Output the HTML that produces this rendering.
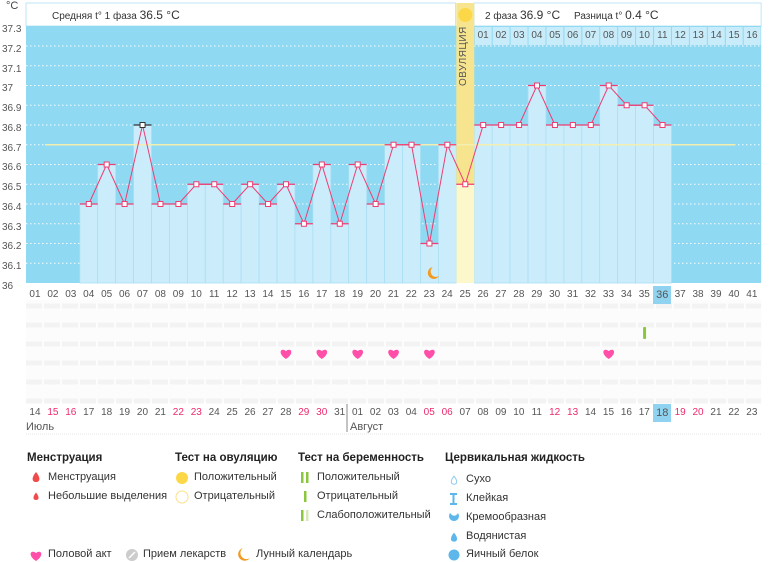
<!DOCTYPE html>
<html><head><meta charset="utf-8"><style>
body{margin:0;width:770px;height:562px;background:#fff;font-family:"Liberation Sans","DejaVu Sans",sans-serif;position:relative;overflow:hidden;color:#444}
.row{position:absolute;left:26px;display:flex;font-size:10px;color:#555}
.row span{width:17.93px;text-align:center;flex:none;line-height:18px}
.r{color:#ee2a6a}
.ab{position:absolute;white-space:nowrap}
.lg{position:absolute;font-size:11px;color:#333;white-space:nowrap}
.lg b{font-size:11.5px;color:#222}
</style></head><body>
<svg id="s" width="770" height="562" style="position:absolute;left:0;top:0"></svg>
<div class="ab" style="left:6px;top:0;font-size:11px">°C</div>
<div class="ab" style="left:52px;top:8px;font-size:10px;color:#333">Средняя t° 1 фаза <span style="font-size:12px">36.5 °C</span></div>
<div class="ab" style="left:485px;top:8px;font-size:10px;color:#333">2 фаза <span style="font-size:12px">36.9 °C</span> &nbsp; &nbsp; Разница t° <span style="font-size:12px">0.4 °C</span></div>
<div class="ab" style="left:2px;top:20px;font-size:10px;line-height:19.75px;color:#555">37.3<br>37.2<br>37.1<br>37<br>36.9<br>36.8<br>36.7<br>36.6<br>36.5<br>36.4<br>36.3<br>36.2<br>36.1<br>36</div>
<div class="row" style="top:27px;left:474.2px"><span>01</span><span>02</span><span>03</span><span>04</span><span>05</span><span>06</span><span>07</span><span>08</span><span>09</span><span>10</span><span>11</span><span>12</span><span>13</span><span>14</span><span>15</span><span>16</span></div>
<div class="ab" style="left:458px;top:86px;transform:rotate(-90deg);transform-origin:0 0;font-size:10px;color:#555;letter-spacing:0.5px">ОВУЛЯЦИЯ</div>
<div class="row" style="top:286px"><span>01</span><span>02</span><span>03</span><span>04</span><span>05</span><span>06</span><span>07</span><span>08</span><span>09</span><span>10</span><span>11</span><span>12</span><span>13</span><span>14</span><span>15</span><span>16</span><span>17</span><span>18</span><span>19</span><span>20</span><span>21</span><span>22</span><span>23</span><span>24</span><span>25</span><span>26</span><span>27</span><span>28</span><span>29</span><span>30</span><span>31</span><span>32</span><span>33</span><span>34</span><span>35</span><span style="background:#8fd3f0;font-size:11px">36</span><span>37</span><span>38</span><span>39</span><span>40</span><span>41</span></div>
<div class="row" style="top:404px"><span>14</span><span class="r">15</span><span class="r">16</span><span>17</span><span>18</span><span>19</span><span>20</span><span>21</span><span class="r">22</span><span class="r">23</span><span>24</span><span>25</span><span>26</span><span>27</span><span>28</span><span class="r">29</span><span class="r">30</span><span>31</span><span>01</span><span>02</span><span>03</span><span>04</span><span class="r">05</span><span class="r">06</span><span>07</span><span>08</span><span>09</span><span>10</span><span>11</span><span class="r">12</span><span class="r">13</span><span>14</span><span>15</span><span>16</span><span>17</span><span style="background:#8fd3f0;font-size:11px">18</span><span class="r">19</span><span class="r">20</span><span>21</span><span>22</span><span>23</span></div>
<div class="ab" style="left:26px;top:421px;font-size:11px;color:#555">Июль</div>
<div class="ab" style="left:350px;top:421px;font-size:11px;color:#555">Август</div>

<div class="lg" style="left:27px;top:452px"><b>Менструация</b></div>
<div class="lg" style="left:48px;top:471px">Менструация</div>
<div class="lg" style="left:48px;top:490px">Небольшие выделения</div>
<div class="lg" style="left:175px;top:452px"><b>Тест на овуляцию</b></div>
<div class="lg" style="left:194px;top:471px">Положительный</div>
<div class="lg" style="left:194px;top:490px">Отрицательный</div>
<div class="lg" style="left:298px;top:452px"><b>Тест на беременность</b></div>
<div class="lg" style="left:317px;top:471px">Положительный</div>
<div class="lg" style="left:317px;top:490px">Отрицательный</div>
<div class="lg" style="left:317px;top:509px">Слабоположительный</div>
<div class="lg" style="left:445px;top:452px"><b>Цервикальная жидкость</b></div>
<div class="lg" style="left:466px;top:473px">Сухо</div>
<div class="lg" style="left:466px;top:492px">Клейкая</div>
<div class="lg" style="left:466px;top:511px">Кремообразная</div>
<div class="lg" style="left:466px;top:530px">Водянистая</div>
<div class="lg" style="left:466px;top:548px">Яичный белок</div>
<div class="lg" style="left:48px;top:548px">Половой акт</div>
<div class="lg" style="left:143px;top:548px">Прием лекарств</div>
<div class="lg" style="left:256px;top:548px">Лунный календарь</div>
<script>
var s=document.getElementById('s'),NS='http://www.w3.org/2000/svg';
function e(t,a){var n=document.createElementNS(NS,t);for(var k in a)n.setAttribute(k,a[k]);s.appendChild(n);return n}
var L=26,W=17.93,R=L+41*W;
function cx(i){return L+(i-0.5)*W}
function y(v){return 283-(v-36)*197.5}
e('rect',{x:L,y:3,width:455.6-L,height:23,fill:'#fff',stroke:'#bfe6f6'});
e('rect',{x:474,y:3,width:R-474,height:23,fill:'#fff',stroke:'#bfe6f6'});
e('rect',{x:L,y:26,width:R-L,height:257,fill:'#8fd9f3'});
for(var i=26;i<=41;i++)e('rect',{x:L+(i-1)*W+0.5,y:27,width:W-1,height:18,fill:'#c8ecfa'});
for(var k=1;k<13;k++)e('line',{x1:L,x2:R,y1:y(36+k/10),y2:y(36+k/10),stroke:'#fff','stroke-dasharray':'1.5,2.5','stroke-width':1,opacity:0.9});
var d={4:36.4,5:36.6,6:36.4,7:36.8,8:36.4,9:36.4,10:36.5,11:36.5,12:36.4,13:36.5,14:36.4,15:36.5,16:36.3,17:36.6,18:36.3,19:36.6,20:36.4,21:36.7,22:36.7,23:36.2,24:36.7,25:36.5,26:36.8,27:36.8,28:36.8,29:37.0,30:36.8,31:36.8,32:36.8,33:37.0,34:36.9,35:36.9,36:36.8};
for(var i=4;i<=36;i++){if(i==25)continue;e('rect',{x:L+(i-1)*W,y:y(d[i]),width:W,height:283-y(d[i]),fill:'#cbedfb',stroke:'#a9dff3','stroke-width':0.8});}
var ox=L+24*W;
e('rect',{x:ox,y:3,width:W,height:y(36.5)-3,fill:'#f6e58e'});
e('rect',{x:ox,y:y(36.5),width:W,height:283-y(36.5),fill:'#fdf7cc'});
e('circle',{cx:cx(25),cy:15,r:7,fill:'#fcd848'});
e('line',{x1:45,x2:735,y1:y(36.7),y2:y(36.7),stroke:'#f3efb0','stroke-width':1.5});
var p=[];for(var i=4;i<=36;i++)p.push(cx(i)+','+y(d[i]));
e('polyline',{points:p.join(' '),fill:'none',stroke:'#ee3d73','stroke-width':1});
for(var i=4;i<=36;i++){var c=i==7?'#333':'#ee3d73';e('line',{x1:L+(i-1)*W,x2:L+i*W,y1:y(d[i]),y2:y(d[i]),stroke:c,'stroke-width':1.3});
e('rect',{x:cx(i)-2.5,y:y(d[i])-2.5,width:5,height:5,fill:'#fff',stroke:c,'stroke-width':1});}
e('path',{d:'M433,267 a6,6 0 1,0 6,9 a5,5 0 0,1 -6,-9z',fill:'#f39a1e'});
e('rect',{x:L,y:300,width:R-L,height:102,fill:'#fcfcfc'});
for(var k=0;k<6;k++)e('line',{x1:L,x2:R,y1:306+k*19,y2:306+k*19,stroke:'#f3f3f3','stroke-width':5,'stroke-dasharray':'16,2'});
[15,17,19,21,23,33].forEach(function(i){var x=cx(i),yy=354;e('path',{d:'M'+x+','+(yy+5)+' C'+(x-9)+','+(yy-1)+' '+(x-5)+','+(yy-7)+' '+x+','+(yy-3)+' C'+(x+5)+','+(yy-7)+' '+(x+9)+','+(yy-1)+' '+x+','+(yy+5)+'z',fill:'#ff4fa8'})});
e('rect',{x:cx(35)-1.5,y:327,width:3,height:12,fill:'#8cc63f',rx:1});
e('line',{x1:347,x2:347,y1:404,y2:432,stroke:'#888'});
e('line',{x1:L,x2:R,y1:434,y2:434,stroke:'#e4e4e4','stroke-dasharray':'1,1'});
function drop(x,yy,sc,f,st){e('path',{d:'M'+x+','+(yy-6*sc)+' C'+(x+5*sc)+','+yy+' '+(x+4*sc)+','+(yy+4*sc)+' '+x+','+(yy+4*sc)+' C'+(x-4*sc)+','+(yy+4*sc)+' '+(x-5*sc)+','+yy+' '+x+','+(yy-6*sc)+'z',fill:f,stroke:st||'none'})}
drop(36,478,1,'#f04a4a');drop(36,497,0.75,'#f04a4a');
e('circle',{cx:182,cy:478,r:6,fill:'#fcd848'});
e('circle',{cx:182,cy:497,r:6,fill:'#fff',stroke:'#fce08a'});
e('rect',{x:301,y:472,width:2.5,height:11,fill:'#8cc63f'});e('rect',{x:306,y:472,width:2.5,height:11,fill:'#8cc63f'});
e('rect',{x:304,y:491,width:2.5,height:11,fill:'#8cc63f'});
e('rect',{x:301,y:510,width:2.5,height:11,fill:'#8cc63f'});e('rect',{x:306,y:510,width:2.5,height:11,fill:'#d6e9b8'});
drop(454,481,0.8,'#fff','#8cc8ee');
e('path',{d:'M450,494 h7 M450,504 h7 M453.5,494 v10',stroke:'#5db7ea','stroke-width':2});
e('path',{d:'M450,513 a5,5 0 1,0 8,0 a4,4 0 0,1 -6,2z',fill:'#5db7ea'});
drop(454,538,0.9,'#5db7ea');
e('circle',{cx:454,cy:555,r:5.5,fill:'#5db7ea'});
var x=36,yy=556;e('path',{d:'M'+x+','+(yy+5)+' C'+(x-9)+','+(yy-1)+' '+(x-5)+','+(yy-7)+' '+x+','+(yy-3)+' C'+(x+5)+','+(yy-7)+' '+(x+9)+','+(yy-1)+' '+x+','+(yy+5)+'z',fill:'#ff4fa8'});
e('circle',{cx:132,cy:555,r:6,fill:'#ccc'});e('line',{x1:129,y1:558,x2:135,y2:552,stroke:'#fff','stroke-width':1.5});
e('path',{d:'M243,548 a6.5,6.5 0 1,0 7,10 a5.5,5.5 0 0,1 -7,-10z',fill:'#f39a1e'});
</script>
</body></html>
